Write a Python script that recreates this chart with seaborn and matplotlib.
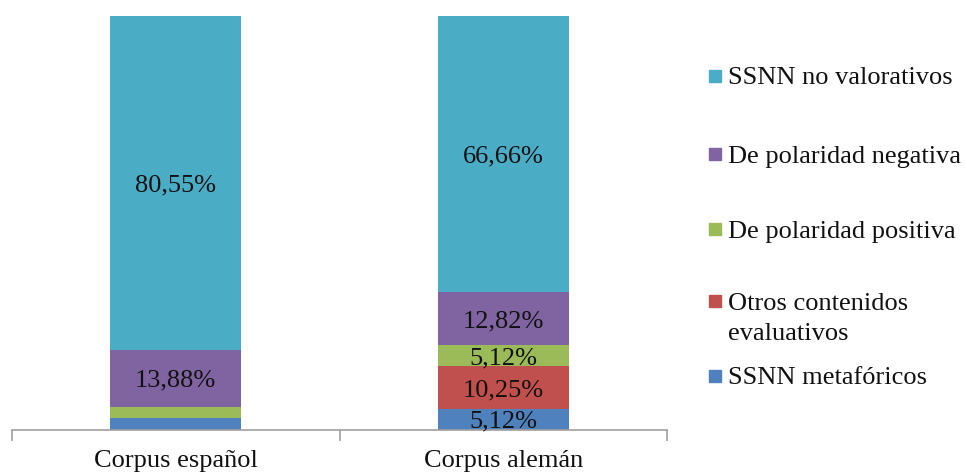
import matplotlib
matplotlib.use("Agg")
import matplotlib.pyplot as plt
from matplotlib.patches import Rectangle
import seaborn as sns
import pandas as pd

# Corpora on the x axis
categories = ["Corpus español", "Corpus alemán"]

# Share of each class of nominal syntagms (%), bottom to top of the stack
series_names = [
    "SSNN metafóricos",
    "Otros contenidos\nevaluativos",
    "De polaridad positiva",
    "De polaridad negativa",
    "SSNN no valorativos",
]
metaforicos = [2.78, 5.12]
otros_evaluativos = [0.0, 10.25]
polaridad_positiva = [2.78, 5.12]
polaridad_negativa = [13.88, 12.82]
no_valorativos = [80.55, 66.66]

series_values = [metaforicos, otros_evaluativos, polaridad_positiva,
                 polaridad_negativa, no_valorativos]
colors = ["#4F81BD", "#C0504D", "#9BBB59", "#8064A2", "#4BACC6"]

sns.set_theme(style="white")
plt.rcParams["font.family"] = ["Liberation Serif", "DejaVu Serif"]
FS = 19

fig = plt.figure(figsize=(9.67, 4.75), dpi=100)
ax = fig.add_axes([12 / 967, 1 - 430 / 475, 655 / 967, 414 / 475])

bottom = [0.0] * len(categories)
for name, vals, col in zip(series_names, series_values, colors):
    df = pd.DataFrame({"corpus": categories, "valor": vals})
    sns.barplot(data=df, x="corpus", y="valor", color=col, width=0.4,
                bottom=bottom, ax=ax, linewidth=0, saturation=1)
    for i, v in enumerate(vals):
        if v >= 5:
            ax.text(i, bottom[i] + v / 2, f"{v:.2f}".replace(".", ",") + "%",
                    ha="center", va="center_baseline", fontsize=FS,
                    color="#111111")
    bottom = [b + v for b, v in zip(bottom, vals)]

ax.set_xlim(-0.5, 1.5)
ax.set_ylim(0, 100)
ax.set_xlabel("")
ax.set_ylabel("")
ax.set_yticks([])
for s in ["top", "right", "left"]:
    ax.spines[s].set_visible(False)
ax.spines["bottom"].set_color("#A0A0A0")
ax.spines["bottom"].set_linewidth(1.2)
ax.set_xticks([0, 1])
ax.set_xticklabels(categories, fontsize=FS, color="#111111")
ax.set_xticks([-0.5, 0.5, 1.5], minor=True)
ax.tick_params(axis="x", which="major", length=0, pad=14.5)
ax.tick_params(axis="x", which="minor", length=8, width=1.2,
               color="#A0A0A0", bottom=True)

# Legend entries, top to bottom (reverse of the stacking order)
legend_y = [76, 154, 229, 301, 376]
for yy, name, col in zip(legend_y, series_names[::-1], colors[::-1]):
    fig.patches.append(Rectangle((709 / 967, 1 - (yy + 6) / 475), 12 / 967, 12 / 475,
                                 transform=fig.transFigure, color=col))
    fig.text(728 / 967, 1 - yy / 475, name.split("\n")[0], fontsize=FS,
             va="center_baseline", ha="left", color="#111111")
    if "\n" in name:
        fig.text(728 / 967, 1 - (yy + 30) / 475, name.split("\n")[1],
                 fontsize=FS, va="center_baseline", ha="left", color="#111111")

fig.savefig("out.png", dpi=100)
